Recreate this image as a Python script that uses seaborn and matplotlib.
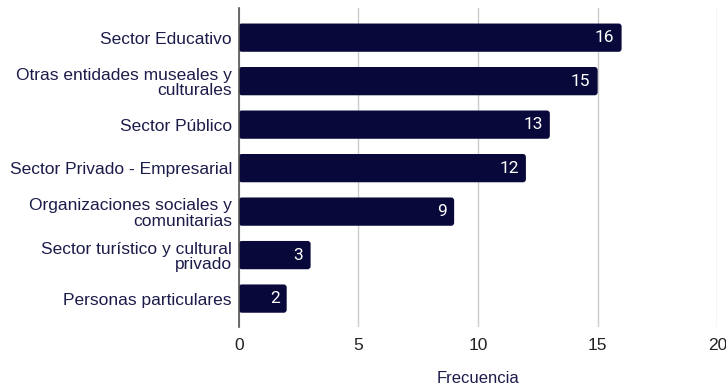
import matplotlib
matplotlib.use("Agg")
import matplotlib.pyplot as plt
from matplotlib.patches import FancyBboxPatch
import seaborn as sns
import pandas as pd

categories = [
    "Sector Educativo",
    "Otras entidades museales y\nculturales",
    "Sector Público",
    "Sector Privado - Empresarial",
    "Organizaciones sociales y\ncomunitarias",
    "Sector turístico y cultural\nprivado",
    "Personas particulares",
]
frecuencia = [16, 15, 13, 12, 9, 3, 2]
x_ticks = [0, 5, 10, 15, 20]

bar_color = "#08083a"
label_color = "#1c1c4a"

sns.set_theme(style="white")
plt.rcParams["font.family"] = ["Liberation Sans", "DejaVu Sans"]

df = pd.DataFrame({"categoria": categories, "frecuencia": frecuencia})

fig = plt.figure(figsize=(7.26, 3.85), dpi=100)
ax = fig.add_axes([0.329, 0.151, 0.659, 0.828])

sns.barplot(data=df, x="frecuencia", y="categoria", color=bar_color,
            saturation=1, width=0.65, ax=ax, zorder=3)

# swap the square bars for slightly rounded ones
for p in list(ax.patches):
    x0, y0 = p.get_x(), p.get_y()
    w, h = p.get_width(), p.get_height()
    p.set_visible(False)
    rb = FancyBboxPatch((x0, y0), w, h,
                        boxstyle="round,pad=0,rounding_size=0.12",
                        mutation_aspect=0.6,
                        facecolor=bar_color, edgecolor="none", zorder=3)
    ax.add_patch(rb)

for i, v in enumerate(frecuencia):
    ax.text(v - 0.3, i, str(v), ha="right", va="center", color="white",
            fontsize=12.5, family=["Roboto", "DejaVu Sans"], zorder=4)

ax.set_xlim(0, 20)
ax.set_ylim(6.65, -0.68)
ax.set_xticks(x_ticks)
ax.set_xticklabels([str(t) for t in x_ticks])
ax.xaxis.grid(True, color="#cccccc", linewidth=1, zorder=0)
ax.set_axisbelow(True)
for s in ["top", "right", "bottom"]:
    ax.spines[s].set_visible(False)
ax.spines["left"].set_color("#555555")
ax.spines["left"].set_linewidth(1.2)
ax.spines["left"].set_zorder(5)

ax.tick_params(axis="y", length=0, pad=5, labelsize=12.5, labelcolor=label_color)
ax.tick_params(axis="x", length=0, pad=8, labelsize=12.5, labelcolor="#222222")
ax.set_ylabel("")
ax.set_xlabel("Frecuencia", fontsize=12, color=label_color, labelpad=13)
for t in ax.get_yticklabels():
    t.set_linespacing(1.05)

fig.savefig("out.png", dpi=100)
